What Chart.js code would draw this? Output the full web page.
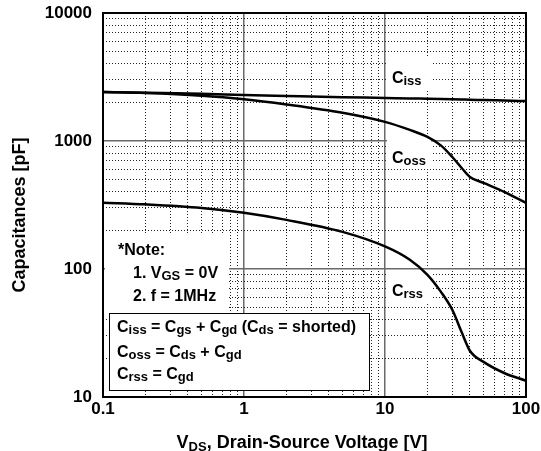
<!DOCTYPE html>
<html>
<head>
<meta charset="utf-8">
<script src="https://cdn.jsdelivr.net/npm/chart.js@4/dist/chart.umd.min.js"></script>
<style>
  html, body { margin: 0; padding: 0; background: #fff; }
  canvas { display: block; }
</style>
</head>
<body>
<canvas id="capChart" width="541" height="451"></canvas>
<script>
// Capacitance vs drain-source voltage
const vds  = [0.1, 0.2, 0.5, 1, 2, 5, 10, 15, 20, 25, 30, 35, 40, 50, 70, 100];
const ciss = [2410, 2380, 2340, 2290, 2250, 2200, 2170, 2150, 2140, 2130, 2120, 2110, 2100, 2090, 2070, 2050];
const coss = [2410, 2370, 2260, 2120, 1930, 1660, 1410, 1220, 1075, 920, 750, 615, 524, 470, 400, 328];
const crss = [330, 320, 300, 275, 242, 195, 150, 118, 90, 66, 48, 32, 23, 18.8, 15.4, 13.4];

// axis tick labels (decades only)
const xTickLabels = ['0.1', '1', '10', '100'];
const yTickLabels = ['10', '100', '1000', '10000'];

const FONT = '"Liberation Sans", Arial, sans-serif';

const xDecades = xTickLabels.map(Number);
const yDecades = yTickLabels.map(Number);

// grid values 1..9 x each decade
function gridValues(decades) {
    const out = [];
    for (let d = 0; d < decades.length; d++) {
        if (d === decades.length - 1) { out.push(decades[d]); break; }
        for (let k = 1; k < 10; k++) out.push(+(decades[d] * k).toPrecision(6));
    }
    return out;
}
function isDecade(v) {
    const l = Math.log10(v);
    return Math.abs(l - Math.round(l)) < 1e-6;
}

// text with subscripts: parts starting with "_" are subscripts
function drawRich(ctx, x, y, parts, size, subSize, drop) {
    let cx = x;
    parts.forEach(p => {
        const sub = p.startsWith('_');
        const t = sub ? p.slice(1) : p;
        ctx.font = `bold ${sub ? subSize : size}px ${FONT}`;
        ctx.fillText(t, cx, sub ? y + drop : y);
        cx += ctx.measureText(t).width;
    });
    return cx - x;
}

function points(ys) {
    return vds.map((v, i) => ({ x: v, y: ys[i] }));
}

const lineStyle = {
    borderColor: '#000',
    borderWidth: 2.5,
    pointRadius: 0,
    fill: false,
    cubicInterpolationMode: 'monotone'
};

const annotations = {
    id: 'annotations',
    beforeDatasetsDraw(chart) {
        const ctx = chart.ctx;
        const xs = chart.scales.x;
        const ys = chart.scales.y;
        ctx.save();
        ctx.fillStyle = '#000';
        ctx.textBaseline = 'alphabetic';
        ctx.textAlign = 'left';

        // curve labels with white backing
        const lx = xs.getPixelForValue(11.2);
        const labels = [
            { sub: '_iss', v: 2840 },
            { sub: '_oss', v: 673 },
            { sub: '_rss', v: 61.5 }
        ];
        labels.forEach(l => {
            const by = ys.getPixelForValue(l.v);
            ctx.fillStyle = '#fff';
            ctx.fillRect(lx - 5, by - 26, 44, 32);
            ctx.fillStyle = '#000';
            drawRich(ctx, lx, by, ['C', l.sub], 16, 13, 2);
        });

        // note block
        const left = chart.chartArea.left;
        ctx.fillStyle = '#fff';
        ctx.fillRect(left + 2, 235, 124, 78);
        ctx.fillStyle = '#000';
        drawRich(ctx, left + 15, 255, ['*Note:'], 16, 13, 2);
        drawRich(ctx, left + 30, 278, ['1. V', '_GS', ' = 0V'], 16, 13, 2);
        drawRich(ctx, left + 30, 301, ['2. f = 1MHz'], 16, 13, 2);

        // definitions box
        ctx.fillStyle = '#fff';
        ctx.fillRect(left + 6, 313, 260, 77);
        ctx.strokeStyle = '#000';
        ctx.lineWidth = 1;
        ctx.strokeRect(left + 6.5, 313.5, 260, 77);
        ctx.fillStyle = '#000';
        drawRich(ctx, left + 14, 332, ['C', '_iss', ' = C', '_gs', ' + C', '_gd', ' (C', '_ds', ' = shorted)'], 16, 13, 2);
        drawRich(ctx, left + 14, 357, ['C', '_oss', ' = C', '_ds', ' + C', '_gd'], 16, 13, 2);
        drawRich(ctx, left + 14, 379, ['C', '_rss', ' = C', '_gd'], 16, 13, 2);
        ctx.restore();
    },
    afterDraw(chart) {
        const ctx = chart.ctx;
        const a = chart.chartArea;
        ctx.save();
        // plot frame
        ctx.strokeStyle = '#000';
        ctx.lineWidth = 2;
        ctx.strokeRect(a.left, a.top, a.right - a.left, a.bottom - a.top);

        // axis titles
        ctx.fillStyle = '#000';
        ctx.textBaseline = 'alphabetic';
        ctx.textAlign = 'left';
        ctx.font = `bold 18px ${FONT}`;
        const xParts = ['V', '_DS', ', Drain-Source Voltage [V]'];
        ctx.globalAlpha = 0;
        const w = drawRich(ctx, 0, 0, xParts, 18, 13, 3);
        ctx.globalAlpha = 1;
        drawRich(ctx, 302 - w / 2, 448, xParts, 18, 13, 3);

        ctx.translate(25, 215);
        ctx.rotate(-Math.PI / 2);
        ctx.textAlign = 'center';
        ctx.font = `bold 18px ${FONT}`;
        ctx.fillText('Capacitances [pF]', 0, 0);
        ctx.restore();
    }
};

function gridOptions() {
    return {
        drawTicks: false,
        color: c => (c.tick && isDecade(c.tick.value)) ? '#6a6a6a' : '#222',
        lineWidth: c => (c.tick && isDecade(c.tick.value)) ? 1.5 : 1
    };
}
function borderOptions() {
    return {
        display: false,
        dash: c => (c.tick && isDecade(c.tick.value)) ? [] : [1, 2]
    };
}

new Chart(document.getElementById('capChart'), {
    type: 'line',
    data: {
        datasets: [
            { label: 'Ciss', data: points(ciss), ...lineStyle },
            { label: 'Coss', data: points(coss), ...lineStyle },
            { label: 'Crss', data: points(crss), ...lineStyle }
        ]
    },
    options: {
        responsive: false,
        animation: false,
        layout: { padding: { left: 0, right: 15, top: 13, bottom: 0 } },
        plugins: {
            legend: { display: false },
            tooltip: { enabled: false }
        },
        scales: {
            x: {
                type: 'logarithmic',
                min: xDecades[0],
                max: xDecades[xDecades.length - 1],
                afterBuildTicks: s => { s.ticks = gridValues(xDecades).map(v => ({ value: v })); },
                afterFit: s => { s.height = 54; s.paddingLeft = 0; s.paddingRight = 0; },
                grid: gridOptions(),
                border: borderOptions(),
                ticks: {
                    autoSkip: false,
                    maxRotation: 0,
                    padding: 2,
                    color: '#000',
                    font: { family: FONT, size: 17, weight: 'bold' },
                    callback: v => {
                        const i = xDecades.findIndex(d => Math.abs(d - v) < 1e-9);
                        return i >= 0 ? xTickLabels[i] : '';
                    }
                }
            },
            y: {
                type: 'logarithmic',
                min: yDecades[0],
                max: yDecades[yDecades.length - 1],
                afterBuildTicks: s => { s.ticks = gridValues(yDecades).map(v => ({ value: v })); },
                afterFit: s => { s.width = 103; s.paddingTop = 0; s.paddingBottom = 0; },
                grid: gridOptions(),
                border: borderOptions(),
                ticks: {
                    autoSkip: false,
                    padding: 11,
                    color: '#000',
                    font: { family: FONT, size: 17, weight: 'bold' },
                    callback: v => {
                        const i = yDecades.findIndex(d => Math.abs(d - v) < 1e-9);
                        return i >= 0 ? yTickLabels[i] : '';
                    }
                }
            }
        }
    },
    plugins: [annotations]
});
</script>
</body>
</html>
